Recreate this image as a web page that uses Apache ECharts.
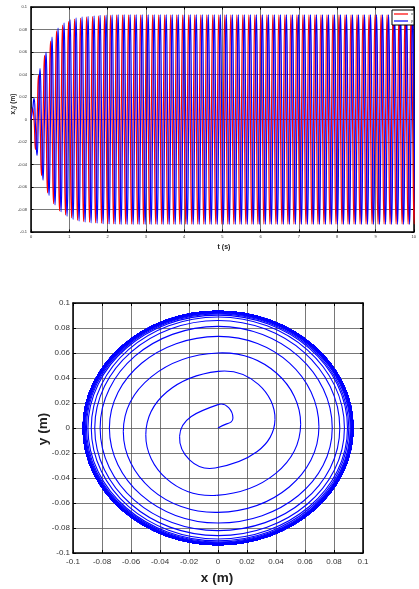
<!DOCTYPE html>
<html>
<head>
<meta charset="utf-8">
<script src="https://cdn.jsdelivr.net/npm/echarts@6/dist/echarts.min.js"></script>
<style>
html,body{margin:0;padding:0;background:#fff;}
#c{width:419px;height:589px;}
</style>
</head>
<body>
<div id="c"></div>
<script>
// Time between quarter-turn samples (s); oscillation period ~0.157 s
const quarterStep = 0.03925;

// x (m) at each quarter-turn sample (origin, then right/top/left/bottom per turn)
const xSamples = [
  0,
  0.0103, 0, -0.0265, -0.002,
  0.0393, 0, -0.0498, -0.001,
  0.0570, 0, -0.0653, 0,
  0.0696, 0, -0.0749, 0,
  0.0788, 0, -0.0813, 0,
  0.0840, 0, -0.0850, 0,
  0.0872, 0, -0.0874, 0,
  0.0893, 0, -0.0897, 0,
  0.0902, 0, -0.0907, 0,
  0.0912, 0, -0.0914, 0,
  0.0917, 0, -0.0919, 0,
  0.0921, 0, -0.0923, 0,
  0.0925, 0, -0.0926, 0,
  0.0928, 0, -0.0928, 0,
  0.0930, 0, -0.0930, 0,
  0.0931, 0, -0.0930, 0,
  0.0931, 0, -0.0930, 0,
  0.0931, 0, -0.0930, 0,
  0.0931, 0, -0.0930, 0,
  0.0931, 0, -0.0930, 0,
  0.0931, 0, -0.0930, 0,
  0.0931, 0, -0.0930, 0,
  0.0931, 0, -0.0930, 0,
  0.0931, 0, -0.0930, 0,
  0.0931, 0, -0.0930, 0,
  0.0931, 0, -0.0930, 0,
  0.0931, 0, -0.0930, 0,
  0.0931, 0, -0.0930, 0,
  0.0931, 0, -0.0930, 0,
  0.0931, 0, -0.0930, 0,
  0.0931, 0, -0.0930, 0,
  0.0931, 0, -0.0930, 0,
  0.0931, 0, -0.0930, 0,
  0.0931, 0, -0.0930, 0,
  0.0931, 0, -0.0930, 0,
  0.0931, 0, -0.0930, 0,
  0.0931, 0, -0.0930, 0,
  0.0931, 0, -0.0930, 0,
  0.0931, 0, -0.0930, 0,
  0.0931, 0, -0.0930, 0,
  0.0931, 0, -0.0930, 0,
  0.0931, 0, -0.0930, 0,
  0.0931, 0, -0.0930, 0,
  0.0931, 0, -0.0930, 0,
  0.0931, 0, -0.0930, 0,
  0.0931, 0, -0.0930, 0,
  0.0931, 0, -0.0930, 0,
  0.0931, 0, -0.0930, 0,
  0.0931, 0, -0.0930, 0,
  0.0931, 0, -0.0930, 0,
  0.0931, 0, -0.0930, 0,
  0.0931, 0, -0.0930, 0,
  0.0931, 0, -0.0930, 0,
  0.0931, 0, -0.0930, 0,
  0.0931, 0, -0.0930, 0,
  0.0931, 0, -0.0930, 0,
  0.0931, 0, -0.0930, 0,
  0.0931, 0, -0.0930, 0,
  0.0931, 0, -0.0930, 0,
  0.0931, 0, -0.0930, 0,
  0.0931, 0, -0.0930, 0,
  0.0931, 0, -0.0930, 0,
  0.0931, 0, -0.0930, 0,
  0.0931, 0, -0.0930, 0
];

// y (m) at the same samples
const ySamples = [
  0,
  0.0080, 0.0187, -0.0066, -0.0320,
  0.0067, 0.0453, -0.0053, -0.0539,
  0.0030, 0.0600, -0.0030, -0.0675,
  0.0010, 0.0733, 0, -0.0760,
  0, 0.0813, 0, -0.0821,
  0, 0.0860, 0, -0.0861,
  0, 0.0888, 0, -0.0888,
  0, 0.0903, 0, -0.0903,
  0, 0.0912, 0, -0.0912,
  0, 0.0918, 0, -0.0918,
  0, 0.0922, 0, -0.0922,
  0, 0.0926, 0, -0.0926,
  0, 0.0929, 0, -0.0929,
  0, 0.0931, 0, -0.0931,
  0, 0.0933, 0, -0.0933,
  0, 0.0933, 0, -0.0933,
  0, 0.0933, 0, -0.0933,
  0, 0.0933, 0, -0.0933,
  0, 0.0933, 0, -0.0933,
  0, 0.0933, 0, -0.0933,
  0, 0.0933, 0, -0.0933,
  0, 0.0933, 0, -0.0933,
  0, 0.0933, 0, -0.0933,
  0, 0.0933, 0, -0.0933,
  0, 0.0933, 0, -0.0933,
  0, 0.0933, 0, -0.0933,
  0, 0.0933, 0, -0.0933,
  0, 0.0933, 0, -0.0933,
  0, 0.0933, 0, -0.0933,
  0, 0.0933, 0, -0.0933,
  0, 0.0933, 0, -0.0933,
  0, 0.0933, 0, -0.0933,
  0, 0.0933, 0, -0.0933,
  0, 0.0933, 0, -0.0933,
  0, 0.0933, 0, -0.0933,
  0, 0.0933, 0, -0.0933,
  0, 0.0933, 0, -0.0933,
  0, 0.0933, 0, -0.0933,
  0, 0.0933, 0, -0.0933,
  0, 0.0933, 0, -0.0933,
  0, 0.0933, 0, -0.0933,
  0, 0.0933, 0, -0.0933,
  0, 0.0933, 0, -0.0933,
  0, 0.0933, 0, -0.0933,
  0, 0.0933, 0, -0.0933,
  0, 0.0933, 0, -0.0933,
  0, 0.0933, 0, -0.0933,
  0, 0.0933, 0, -0.0933,
  0, 0.0933, 0, -0.0933,
  0, 0.0933, 0, -0.0933,
  0, 0.0933, 0, -0.0933,
  0, 0.0933, 0, -0.0933,
  0, 0.0933, 0, -0.0933,
  0, 0.0933, 0, -0.0933,
  0, 0.0933, 0, -0.0933,
  0, 0.0933, 0, -0.0933,
  0, 0.0933, 0, -0.0933,
  0, 0.0933, 0, -0.0933,
  0, 0.0933, 0, -0.0933,
  0, 0.0933, 0, -0.0933,
  0, 0.0933, 0, -0.0933,
  0, 0.0933, 0, -0.0933,
  0, 0.0933, 0, -0.0933,
  0, 0.0933, 0, -0.0933
];

const timeTicks = [0, 10, 1];      // min, max, interval (s)
const posTicks = [-0.1, 0.1, 0.02]; // min, max, interval (m)

const times = xSamples.map((_, i) => i * quarterStep);
const seriesX = times.map((t, i) => [t, xSamples[i]]);
const seriesY = times.map((t, i) => [t, ySamples[i]]);
const phasePts = xSamples.map((x, i) => [x, ySamples[i]]);
// one item per drawn segment of the phase trajectory (up to t = 10 s)
const lastIdx = times.findIndex(t => t >= timeTicks[1]);
const phaseSegs = phasePts.slice(0, lastIdx).map((p, i) => [p[0], p[1], i]);

const FONT = '"Liberation Sans", Arial, sans-serif';
const fmt = v => String(+(+v).toFixed(2));

function axis(opts) {
  const base = {
    type: 'value',
    axisLine: { show: true, onZero: false, lineStyle: { color: '#000', width: 1.5 } },
    axisTick: { show: true, inside: true, length: opts.tickLen, lineStyle: { color: '#000', width: 1 } },
    axisLabel: { show: opts.labels, fontSize: opts.fs, color: '#333', fontFamily: FONT, margin: opts.margin, formatter: fmt },
    splitLine: { show: opts.split, lineStyle: { color: '#555', width: 0.8 } }
  };
  return Object.assign(base, opts.extra);
}

// smooth cubic segment through the samples (same handle rule as ECharts' smooth line)
const SMOOTH = 0.55;
const dist = (a, b) => Math.hypot(a[0] - b[0], a[1] - b[1]);
function handle(prev, cur, next) {
  const lp = dist(cur, prev), ln = dist(next, cur);
  if (lp + ln === 0) return [[0, 0], [0, 0]];
  const vx = next[0] - prev[0], vy = next[1] - prev[1];
  const rn = ln / (lp + ln);
  return [[vx * SMOOTH * rn, vy * SMOOTH * rn], [vx * SMOOTH * (1 - rn), vy * SMOOTH * (1 - rn)]];
}
function renderPhase(params, api) {
  const i = api.value(2);
  const n = phasePts.length;
  const P = k => api.coord(phasePts[Math.max(0, Math.min(n - 1, k))]);
  const p0 = P(i - 1), p1 = P(i), p2 = P(i + 1), p3 = P(i + 2);
  const h1 = handle(p0, p1, p2)[0];   // outgoing handle at p1
  const h2 = handle(p1, p2, p3)[1];   // incoming handle at p2
  return {
    type: 'bezierCurve',
    shape: {
      x1: p1[0], y1: p1[1], x2: p2[0], y2: p2[1],
      cpx1: p1[0] + h1[0], cpy1: p1[1] + h1[1],
      cpx2: p2[0] - h2[0], cpy2: p2[1] - h2[1]
    },
    style: { stroke: '#0000ff', lineWidth: 1.1, fill: null }
  };
}

const chart = echarts.init(document.getElementById('c'), null, { renderer: 'canvas' });

chart.setOption({
  animation: false,
  backgroundColor: '#fff',
  grid: [
    { left: 31, top: 7, width: 387, height: 225 },
    { left: 73, top: 303, width: 290, height: 250 }
  ],
  xAxis: [
    axis({ labels: true, fs: 4, margin: 3, tickLen: 2.5, split: true,
      extra: { gridIndex: 0, position: 'bottom', min: timeTicks[0], max: timeTicks[1], interval: timeTicks[2] } }),
    axis({ labels: false, fs: 4, margin: 3, tickLen: 2.5, split: false,
      extra: { gridIndex: 0, position: 'top', min: timeTicks[0], max: timeTicks[1], interval: timeTicks[2] } }),
    axis({ labels: true, fs: 8, margin: 5, tickLen: 3, split: true,
      extra: { gridIndex: 1, position: 'bottom', min: posTicks[0], max: posTicks[1], interval: posTicks[2] } }),
    axis({ labels: false, fs: 8, margin: 5, tickLen: 3, split: false,
      extra: { gridIndex: 1, position: 'top', min: posTicks[0], max: posTicks[1], interval: posTicks[2] } })
  ],
  yAxis: [
    axis({ labels: true, fs: 4, margin: 4, tickLen: 2.5, split: true,
      extra: { gridIndex: 0, position: 'left', min: posTicks[0], max: posTicks[1], interval: posTicks[2] } }),
    axis({ labels: false, fs: 4, margin: 4, tickLen: 2.5, split: false,
      extra: { gridIndex: 0, position: 'right', min: posTicks[0], max: posTicks[1], interval: posTicks[2] } }),
    axis({ labels: true, fs: 8, margin: 3, tickLen: 3, split: true,
      extra: { gridIndex: 1, position: 'left', min: posTicks[0], max: posTicks[1], interval: posTicks[2] } }),
    axis({ labels: false, fs: 8, margin: 3, tickLen: 3, split: false,
      extra: { gridIndex: 1, position: 'right', min: posTicks[0], max: posTicks[1], interval: posTicks[2] } })
  ],
  legend: {
    data: [{ name: 'x', icon: 'rect' }, { name: 'y', icon: 'rect' }],
    orient: 'vertical',
    left: 392, top: 10,
    itemWidth: 14, itemHeight: 1.2, itemGap: 3,
    padding: [2, 1, 2, 2],
    borderColor: '#000', borderWidth: 1,
    backgroundColor: '#fff',
    textStyle: { fontSize: 4, color: '#333', fontFamily: FONT, padding: [0, 0, 0, -2] }
  },
  graphic: [
    { type: 'text', x: 13, y: 104, rotation: Math.PI / 2,
      style: { text: 'x,y (m)', font: 'bold 6.5px ' + FONT, fill: '#222', align: 'center', verticalAlign: 'middle' } },
    { type: 'text', x: 224, y: 247,
      style: { text: 't (s)', font: 'bold 7px ' + FONT, fill: '#222', align: 'center', verticalAlign: 'middle' } },
    { type: 'text', x: 43, y: 429, rotation: Math.PI / 2,
      style: { text: 'y (m)', font: 'bold 13.5px ' + FONT, fill: '#222', align: 'center', verticalAlign: 'middle' } },
    { type: 'text', x: 217, y: 578,
      style: { text: 'x (m)', font: 'bold 13.5px ' + FONT, fill: '#222', align: 'center', verticalAlign: 'middle' } }
  ],
  series: [
    { name: 'x', type: 'line', xAxisIndex: 0, yAxisIndex: 0, data: seriesX,
      showSymbol: false, symbol: 'none', smooth: 0.55, color: '#ff0000',
      lineStyle: { color: '#ff0000', width: 1.2 } },
    { name: 'y', type: 'line', xAxisIndex: 0, yAxisIndex: 0, data: seriesY,
      showSymbol: false, symbol: 'none', smooth: 0.55, color: '#0000ff',
      lineStyle: { color: '#0000ff', width: 1.2 } },
    { name: 'phase', type: 'custom', xAxisIndex: 2, yAxisIndex: 2, data: phaseSegs,
      encode: { x: 0, y: 1 }, clip: true, silent: true, renderItem: renderPhase }
  ]
});
</script>
</body>
</html>
